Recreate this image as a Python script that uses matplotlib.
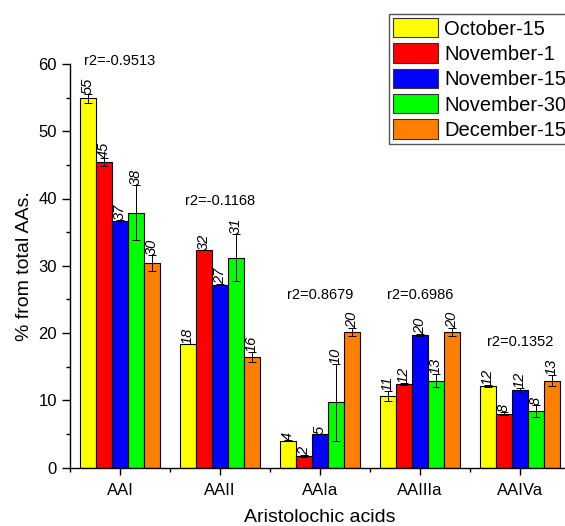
import numpy as np
import matplotlib
matplotlib.use("Agg")
import matplotlib.pyplot as plt
from matplotlib.ticker import MultipleLocator, FixedLocator

plt.rcParams['font.family'] = ['Liberation Sans', 'DejaVu Sans']

categories = ["AAI", "AAII", "AAIa", "AAIIIa", "AAIVa"]
series = ["October-15", "November-1", "November-15", "November-30", "December-15"]
colors = ["#FFFF00", "#FF0000", "#0000FF", "#00FF00", "#FF8000"]

# each list: one series across the five categories
oct15 = [54.9, 18.4, 4.0, 10.6, 12.1]
nov1 = [45.4, 32.4, 1.7, 12.4, 8.0]
nov15 = [36.6, 27.2, 5.0, 19.7, 11.5]
nov30 = [37.9, 31.2, 9.7, 12.9, 8.35]
dec15 = [30.4, 16.4, 20.1, 20.1, 12.9]

oct15_err = [0.67, 0.0, 0.1, 0.77, 0.1]
nov1_err = [0.6, 0.0, 0.12, 0.2, 0.2]
nov15_err = [0.27, 0.1, 0.0, 0.1, 0.35]
nov30_err = [4.06, 3.47, 5.75, 1.0, 0.87]
dec15_err = [1.24, 0.72, 0.62, 0.62, 0.8]

r2_values = ["-0.9513", "-0.1168", "0.8679", "0.6986", "0.1352"]

values = [oct15, nov1, nov15, nov30, dec15]
errors = [oct15_err, nov1_err, nov15_err, nov30_err, dec15_err]

fig = plt.figure(figsize=(5.65, 5.26), dpi=100)
ax = fig.add_axes([70/565, 58.5/526, 500/565, 403.5/526])

x = np.arange(len(categories))
width = 0.16
handles = []
for i, (vals, errs, col, name) in enumerate(zip(values, errors, colors, series)):
    pos = x + (i - 2) * width
    b = ax.bar(pos, vals, width, color=col, edgecolor='black', linewidth=0.8,
               label=name, zorder=2)
    handles.append(b)
    ax.errorbar(pos, vals, yerr=errs, fmt='none', ecolor='black',
                elinewidth=0.7, capsize=3, capthick=0.7, zorder=3)
    for p, v, e in zip(pos, vals, errs):
        ax.text(p, v + e, f"{round(v)}", rotation=90, ha='center', va='bottom',
                fontsize=10.5, style='italic', zorder=4)

for j in range(len(categories)):
    top = max(values[i][j] + errors[i][j] for i in range(len(series)))
    ax.text(x[j], top + 4.9, f"r2={r2_values[j]}", ha='center', va='center',
            fontsize=10.5)

ax.set_xlim(-0.5, len(categories) - 0.5)
ax.set_ylim(0, 60)
ax.set_xticks(x)
ax.set_xticklabels(categories, fontsize=12)
ax.xaxis.set_minor_locator(FixedLocator(np.arange(-0.5, len(categories), 1.0)))
ax.yaxis.set_major_locator(MultipleLocator(10))
ax.yaxis.set_minor_locator(MultipleLocator(5))
ax.tick_params(axis='y', which='major', direction='out', length=6, width=1, labelsize=12)
ax.tick_params(axis='y', which='minor', direction='out', length=3, width=1)
ax.tick_params(axis='x', which='major', direction='out', length=5, width=1, pad=6)
ax.tick_params(axis='x', which='minor', direction='out', length=3, width=1)
for s in ['top', 'right']:
    ax.spines[s].set_visible(False)
for s in ['left', 'bottom']:
    ax.spines[s].set_linewidth(1)
    ax.spines[s].set_zorder(5)

ax.set_ylabel("% from total AAs.", fontsize=14, labelpad=4)
ax.set_xlabel("Aristolochic acids", fontsize=14, labelpad=8)

leg = fig.legend(handles=handles, labels=series, loc='upper left',
                 bbox_to_anchor=(389/565, 1 - 14/526), borderaxespad=0,
                 fontsize=14.5, handlelength=2.25, handleheight=1.1,
                 labelspacing=0.24, handletextpad=0.3, borderpad=0.2,
                 fancybox=False, framealpha=1, edgecolor='#555555')
leg.get_frame().set_linewidth(1)
for h in leg.legend_handles:
    h.set_edgecolor('#333333')

fig.savefig("out.png", dpi=100)
